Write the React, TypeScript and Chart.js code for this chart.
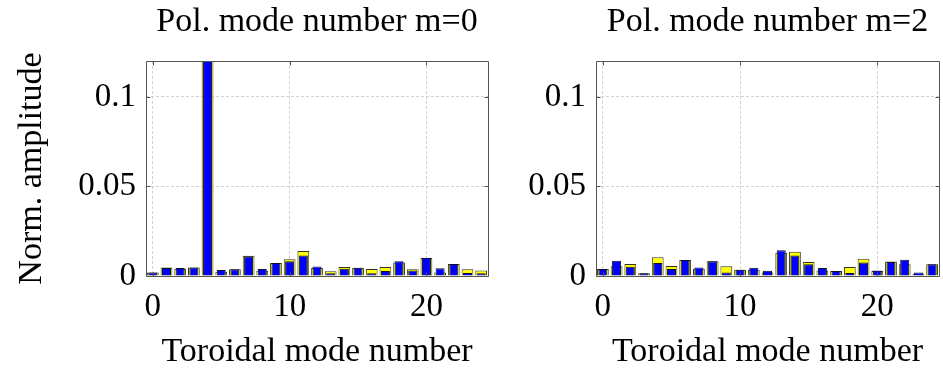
import React, { useEffect, useRef } from "react";
import { Chart, registerables } from "chart.js";

Chart.register(...registerables);

// ---- data ----
const modeNumbers = [0, 1, 2, 3, 4, 5, 6, 7, 8, 9, 10, 11, 12, 13, 14, 15, 16, 17, 18, 19, 20, 21, 22, 23, 24];

const m0Yellow = [0.002, 0.0048, 0.004, 0.0048, 1, 0.0024, 0.0037, 0.0113, 0.003, 0.0072, 0.0094, 0.0139, 0.0045, 0.0026, 0.005, 0.0046, 0.0039, 0.005, 0.0076, 0.0037, 0.0101, 0.002, 0.0067, 0.0037, 0.0031];
const m0Blue = [0.002, 0.0044, 0.0045, 0.0048, 1, 0.0033, 0.0037, 0.011, 0.0039, 0.0072, 0.0083, 0.0115, 0.0053, 0.0015, 0.004, 0.0046, 0.0015, 0.0028, 0.0083, 0.0031, 0.0102, 0.0043, 0.0067, 0.0017, 0.0015];

const m2Yellow = [0.0039, 0.0054, 0.0067, 0.0015, 0.0104, 0.0056, 0.0089, 0.0041, 0.0083, 0.0054, 0.0035, 0.0035, 0.002, 0.013, 0.0135, 0.0078, 0.0031, 0.0028, 0.005, 0.0096, 0.0028, 0.0081, 0.0065, 0.0011, 0.0065];
const m2Blue = [0.0039, 0.0085, 0.0052, 0.0015, 0.0072, 0.0039, 0.0089, 0.0048, 0.0083, 0.002, 0.0035, 0.0046, 0.003, 0.0144, 0.0115, 0.0065, 0.0044, 0.0028, 0.0017, 0.0076, 0.0031, 0.0078, 0.0091, 0.0019, 0.0065];

const xTickValues = [0, 10, 20];
const xTickLabels = ["0", "10", "20"];
const yTickValues = [0, 0.05, 0.1];
const yTickLabels = ["0", "0.05", "0.1"];

const panelTitles = ["Pol. mode number m=0", "Pol. mode number m=2"];
const xAxisTitle = "Toroidal mode number";
const yAxisTitle = "Norm. amplitude";

// ---- styling ----
const FONT = "'Liberation Serif', 'Times New Roman', Times, serif";
const GRID = "#d2d2d2";

const boxPlugin = {
  id: "matlabBox",
  afterDraw(chart: any) {
    const { ctx, chartArea: a, scales } = chart;
    const L = Math.round(a.left) + 0.5;
    const R = Math.round(a.right) + 0.5;
    const T = Math.round(a.top) + 0.5;
    const B = Math.round(a.bottom) + 0.5;
    ctx.save();
    ctx.strokeStyle = "#555";
    ctx.lineWidth = 1;
    ctx.beginPath();
    ctx.rect(L, T, R - L, B - T);
    ctx.stroke();
    const tl = 4;
    ctx.beginPath();
    for (const v of xTickValues) {
      const px = Math.round(scales.x.getPixelForValue(v)) + 0.5;
      ctx.moveTo(px, B);
      ctx.lineTo(px, B - tl);
      ctx.moveTo(px, T);
      ctx.lineTo(px, T + tl);
    }
    for (const v of yTickValues) {
      const py = Math.round(scales.y.getPixelForValue(v)) + 0.5;
      ctx.moveTo(L, py);
      ctx.lineTo(L + tl, py);
      ctx.moveTo(R, py);
      ctx.lineTo(R - tl, py);
    }
    ctx.stroke();
    ctx.restore();
  },
};

type PanelProps = {
  title: string;
  yellow: number[];
  blue: number[];
  showYTitle: boolean;
  width: number;
  yAxisWidth: number;
  rightPad: number;
  left: number;
};

function Panel({ title, yellow, blue, showYTitle, width, yAxisWidth, rightPad, left }: PanelProps) {
  const ref = useRef<HTMLCanvasElement>(null);
  useEffect(() => {
    const chart = new Chart(ref.current as HTMLCanvasElement, {
      type: "bar",
      data: {
        datasets: [
          {
            label: "blue",
            data: modeNumbers.map((n, i) => ({ x: n, y: blue[i] })),
            backgroundColor: "#0000ff",
            borderColor: "#111122",
            borderWidth: 1,
            barPercentage: 0.66,
            categoryPercentage: 1,
            grouped: false,
            order: 0,
            clip: 0,
          } as any,
          {
            label: "yellow",
            data: modeNumbers.map((n, i) => ({ x: n, y: yellow[i] })),
            backgroundColor: "#ffff00",
            borderColor: "#333322",
            borderWidth: 1,
            barPercentage: 0.86,
            categoryPercentage: 1,
            grouped: false,
            order: 1,
            clip: 0,
          } as any,
        ],
      },
      options: {
        animation: false,
        responsive: false,
        maintainAspectRatio: false,
        layout: { padding: { left: 0, right: rightPad, top: 0, bottom: 0 } },
        plugins: {
          legend: { display: false },
          tooltip: { enabled: false },
          title: {
            display: true,
            text: title,
            fullSize: false,
            color: "#000",
            font: { family: FONT, size: 34, weight: "normal", lineHeight: 1.2 },
            padding: { top: 1.6, bottom: 18.6 },
          },
        },
        scales: {
          x: {
            type: "linear",
            min: -0.5,
            max: 24.5,
            offset: false,
            grid: { offset: false, color: GRID, lineWidth: 1, drawTicks: false },
            border: { display: false, dash: [3, 2] },
            afterBuildTicks: (s: any) => {
              s.ticks = xTickValues.map((v) => ({ value: v }));
            },
            afterFit: (s: any) => {
              s.height = 95;
            },
            ticks: {
              autoSkip: false,
              maxRotation: 0,
              padding: 12,
              color: "#000",
              font: { family: FONT, size: 33, lineHeight: 1.2 },
              callback: (_v: any, i: number) => xTickLabels[i],
            },
            title: {
              display: true,
              text: xAxisTitle,
              color: "#000",
              font: { family: FONT, size: 34, lineHeight: 1 },
              padding: { top: 0, bottom: 1.5 },
            },
          },
          y: {
            type: "linear",
            min: 0,
            max: 0.12,
            grid: {
              color: (c: any) => (c.tick && c.tick.value === 0 ? "rgba(0,0,0,0)" : GRID),
              lineWidth: 1,
              drawTicks: false,
            },
            border: { display: false, dash: [3, 2] },
            afterBuildTicks: (s: any) => {
              s.ticks = yTickValues.map((v) => ({ value: v }));
            },
            afterFit: (s: any) => {
              s.width = yAxisWidth;
            },
            ticks: {
              autoSkip: false,
              padding: 10,
              color: "#000",
              font: { family: FONT, size: 33, lineHeight: 1.2 },
              callback: (_v: any, i: number) => yTickLabels[i],
            },
            title: {
              display: showYTitle,
              text: yAxisTitle,
              color: "#000",
              font: { family: FONT, size: 34, lineHeight: 1 },
              padding: { top: 15.5, bottom: 0 },
            },
          },
        },
      },
      plugins: [boxPlugin],
    } as any);
    return () => chart.destroy();
  }, []);
  return (
    <canvas
      ref={ref}
      width={width}
      height={371}
      style={{ position: "absolute", left, top: 0, width, height: 371 }}
    />
  );
}

export default function App() {
  return (
    <div
      style={{
        position: "fixed",
        left: 0,
        top: 0,
        width: 943,
        height: 371,
        background: "#fff",
        overflow: "hidden",
      }}
    >
      <Panel title={panelTitles[0]} yellow={m0Yellow} blue={m0Blue} showYTitle={true} width={500} yAxisWidth={146} rightPad={12} left={0} />
      <Panel title={panelTitles[1]} yellow={m2Yellow} blue={m2Blue} showYTitle={false} width={443} yAxisWidth={96} rightPad={4} left={500} />
    </div>
  );
}
